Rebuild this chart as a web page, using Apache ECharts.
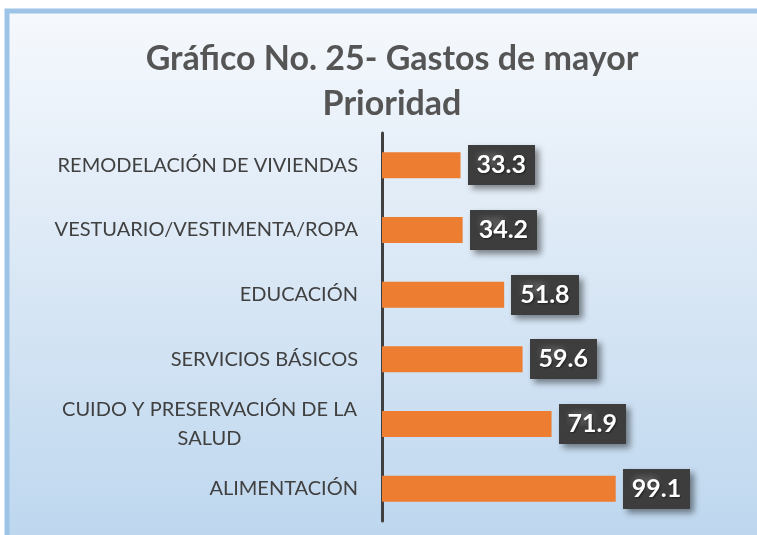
<!DOCTYPE html>
<html>
<head>
<meta charset="utf-8">
<script src="https://cdn.jsdelivr.net/npm/echarts@6/dist/echarts.min.js"></script>
<style>
  html, body { margin: 0; padding: 0; background: #fff; }
  .chart { width: 757px; height: 535px; }
</style>
</head>
<body>
<div class="chart"></div>
<script>
// datos
var titulo = 'Gráfico No. 25- Gastos de mayor\nPrioridad';
var categorias = ['ALIMENTACIÓN', 'CUIDO Y PRESERVACIÓN DE LA\nSALUD', 'SERVICIOS BÁSICOS', 'EDUCACIÓN', 'VESTUARIO/VESTIMENTA/ROPA', 'REMODELACIÓN DE VIVIENDAS'];
var valores = [99.1, 71.9, 59.6, 51.8, 34.2, 33.3];

(function () {
  // textura punteada de las etiquetas
  var c = document.createElement('canvas')
  c.width = 6; c.height = 6
  var ctx = c.getContext('2d')
  ctx.fillStyle = '#3d3d3d'
  ctx.fillRect(0, 0, 6, 6)
  ctx.fillStyle = '#555555'
  ctx.fillRect(1, 1, 2, 2)
  var patron = c.toDataURL()

  var myChart = echarts.init(document.querySelector('.chart'))
  var option = {
    backgroundColor: '#fff',
    graphic: [{
      type: 'rect',
      z: -10,
      silent: true,
      shape: { x: 7, y: 11, width: 760, height: 540 },
      style: {
        fill: new echarts.graphic.LinearGradient(0, 0, 0, 1, [
          { offset: 0, color: '#f6f9fd' },
          { offset: 0.5, color: '#d9e7f5' },
          { offset: 1, color: '#bcd6ee' }
        ]),
        stroke: '#9dc3e6',
        lineWidth: 5
      }
    }],
    title: {
      text: titulo,
      left: 387,
      top: 32,
      textAlign: 'center',
      textStyle: {
        color: '#555555',
        fontFamily: 'Lato',
        fontWeight: 'bold',
        fontSize: 34,
        lineHeight: 45
      }
    },
    grid: {
      left: 382,
      top: 133,
      width: 283,
      height: 388,
      containLabel: false
    },
    xAxis: {
      type: 'value',
      show: false,
      min: 0,
      max: 120
    },
    yAxis: {
      type: 'category',
      data: categorias,
      axisTick: { show: false },
      axisLine: {
        show: true,
        lineStyle: { color: '#404040', width: 3 }
      },
      axisLabel: {
        color: '#404040',
        fontFamily: 'Lato',
        fontSize: 20,
        lineHeight: 29,
        margin: 24,
        align: 'right',
        // varias lineas: centradas dentro del bloque
        formatter: function (v) {
          if (v.indexOf('\n') < 0) return v
          return v.split('\n').map(function (s) { return '{l|' + s + '}' }).join('\n')
        },
        rich: {
          l: {
            color: '#404040',
            fontFamily: 'Lato',
            fontSize: 20,
            lineHeight: 29,
            width: 297,
            align: 'center'
          }
        }
      }
    },
    series: [{
      type: 'bar',
      data: valores,
      barWidth: 26,
      itemStyle: { color: '#ed7d31' },
      label: {
        show: true,
        position: 'right',
        distance: 7,
        color: '#fff',
        fontFamily: 'Lato',
        fontWeight: 'bold',
        fontSize: 25,
        padding: [8, 9, 7, 9],
        backgroundColor: { image: patron },
        shadowColor: 'rgba(0,0,0,0.45)',
        shadowBlur: 6,
        shadowOffsetX: 4,
        shadowOffsetY: 4,
        textShadowColor: 'rgba(0,0,0,0.5)',
        textShadowBlur: 2,
        textShadowOffsetX: 1,
        textShadowOffsetY: 1
      }
    }]
  }
  myChart.setOption(option)
})();
</script>
</body>
</html>
